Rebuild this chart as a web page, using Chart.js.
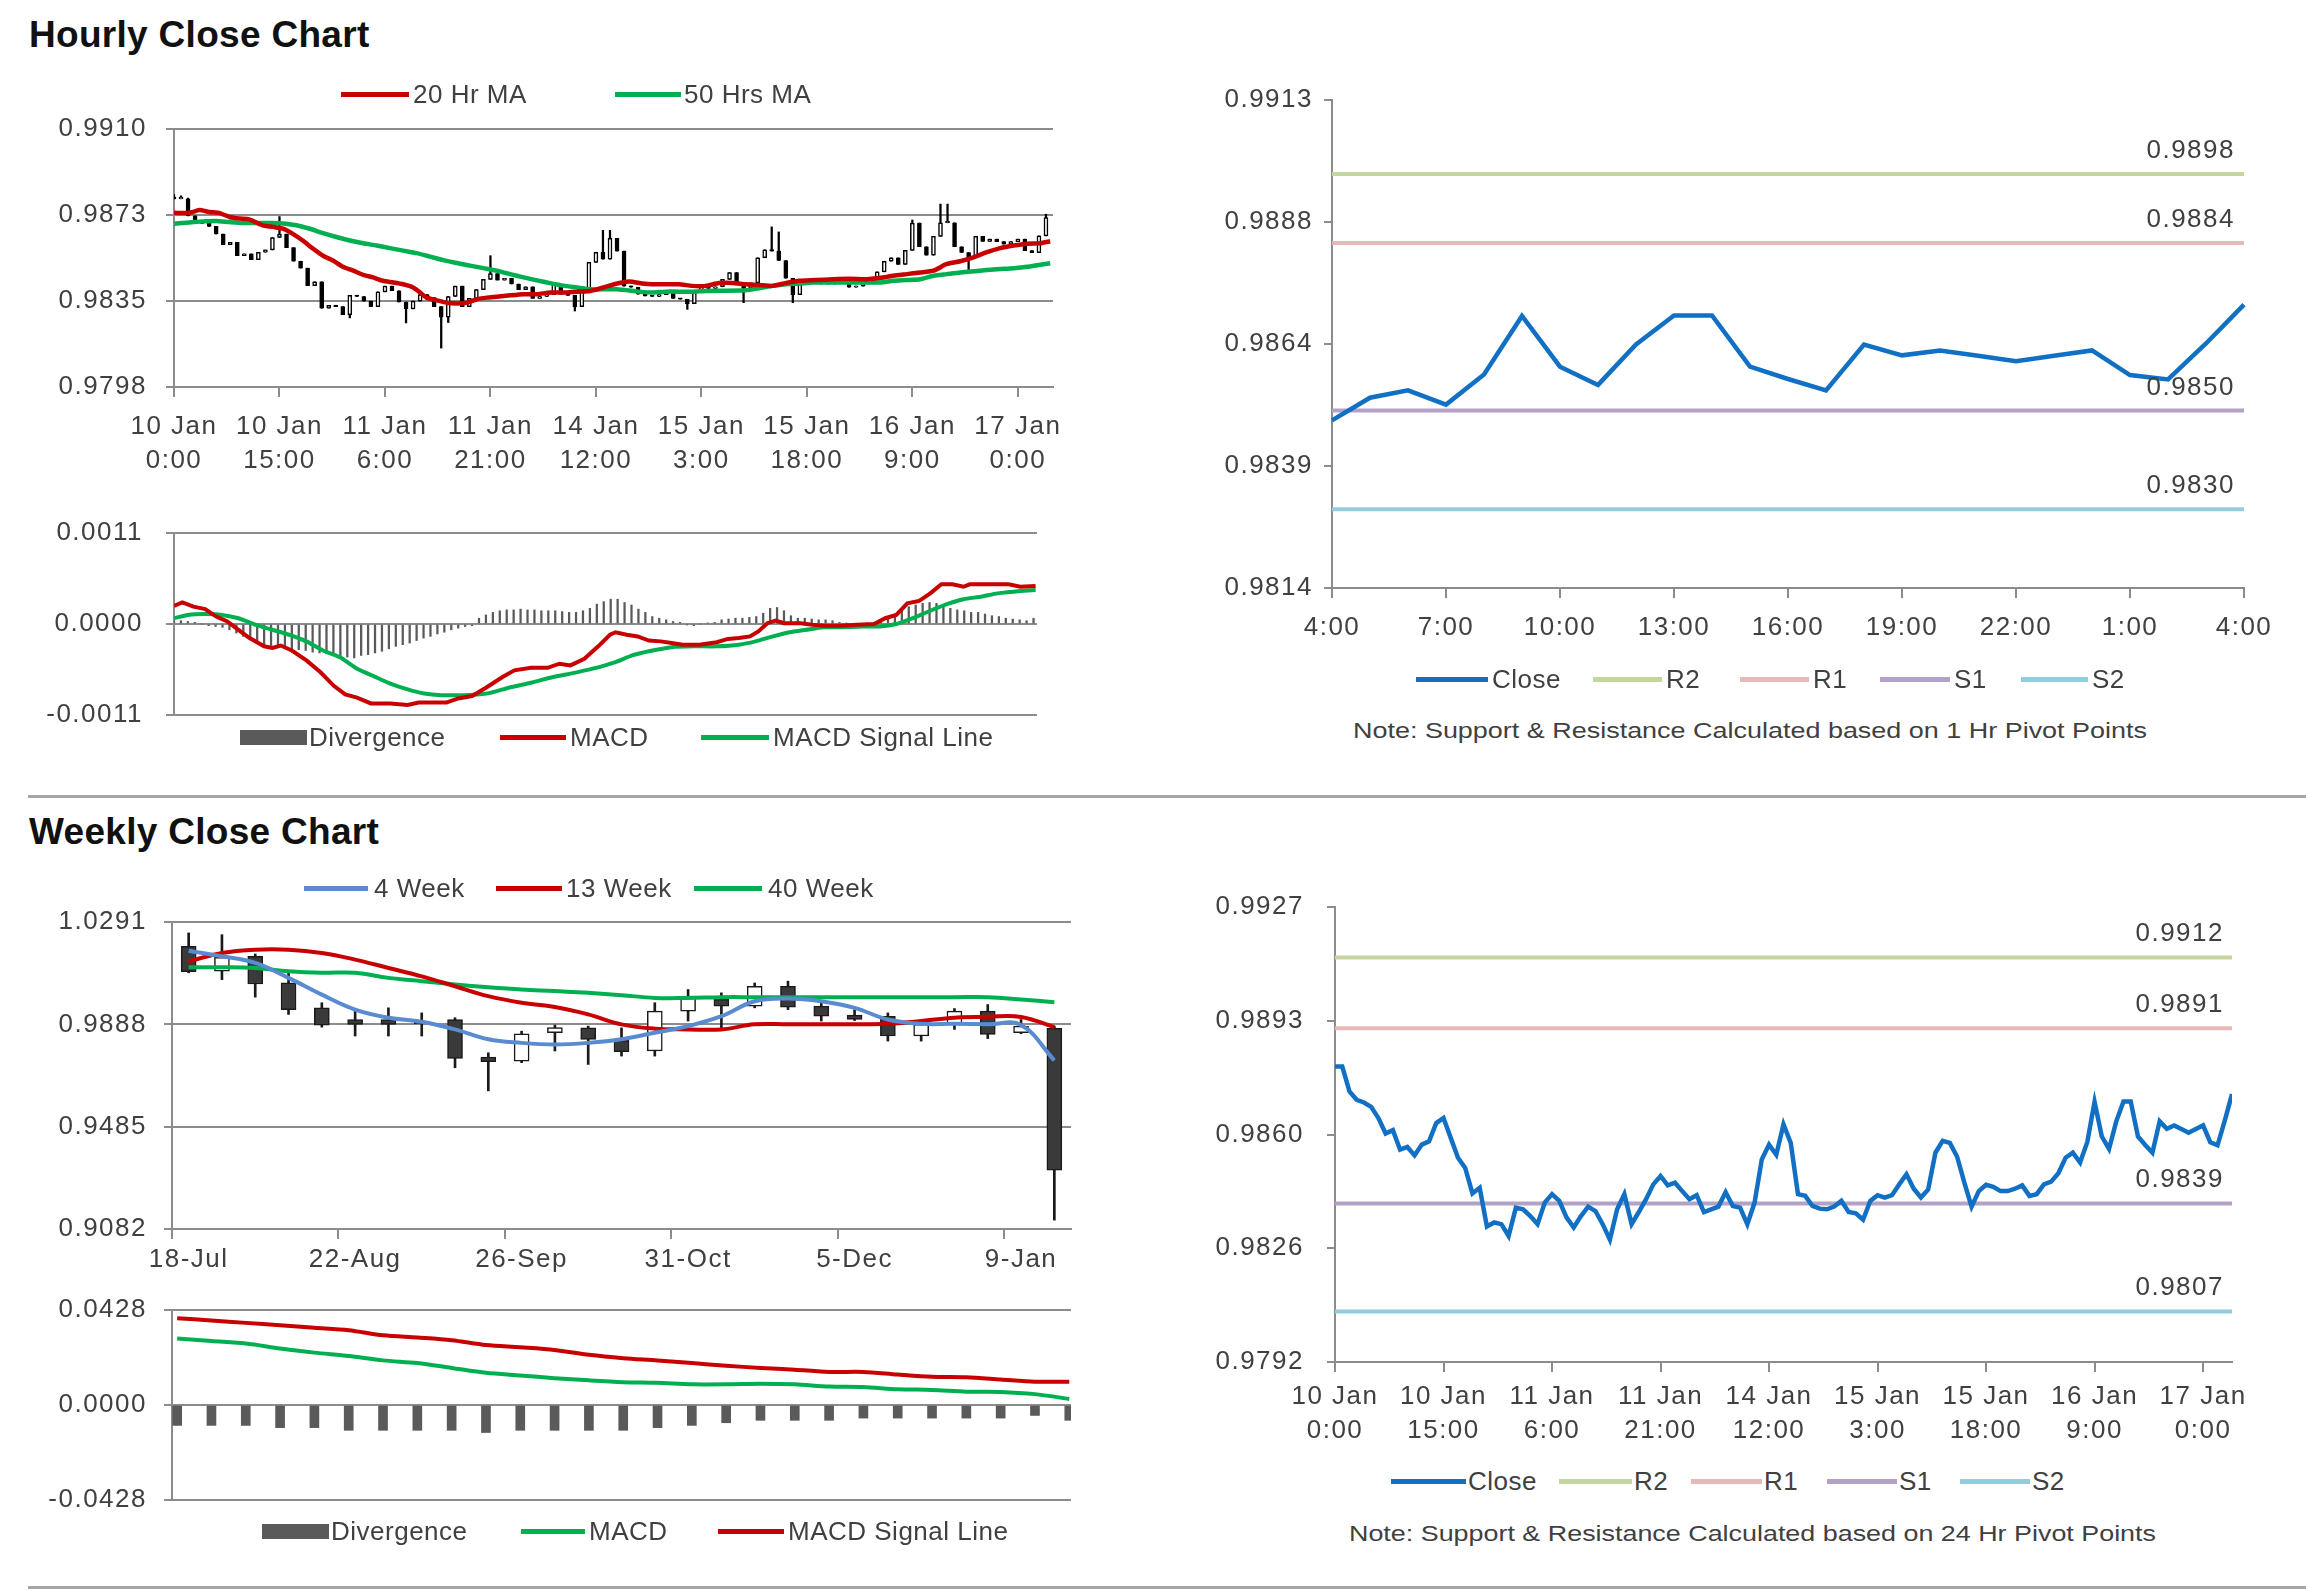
<!DOCTYPE html>
<html><head><meta charset="utf-8">
<script src="https://cdn.jsdelivr.net/npm/chart.js@4.4.1/dist/chart.umd.min.js"></script>
<style>
html,body{margin:0;padding:0;background:#fff;}
body{width:2306px;height:1591px;position:relative;overflow:hidden;font-family:"Liberation Sans",Arial,sans-serif;}
canvas{position:absolute;}
.title{position:absolute;font-weight:bold;font-size:37px;color:#111;line-height:40px;white-space:nowrap;letter-spacing:0.3px;}
.sep{position:absolute;height:3px;background:#a6a6a6;}
.lt{position:absolute;font-size:26px;color:#404040;line-height:30px;white-space:nowrap;letter-spacing:0.5px;}
.sw{position:absolute;}
.note{position:absolute;font-size:22px;color:#404040;white-space:nowrap;line-height:26px;transform-origin:0 50%;}
</style></head><body>
<script>
// ---------------- DATA ----------------
const hourTickStep = 15;
const hourTickLabels = [['10 Jan','0:00'],['10 Jan','15:00'],['11 Jan','6:00'],['11 Jan','21:00'],['14 Jan','12:00'],['15 Jan','3:00'],['15 Jan','18:00'],['16 Jan','9:00'],['17 Jan','0:00']];
const hourFirstOpen = 0.98805;
const hourClose = [
0.98797,0.98797,0.98723,0.98698,0.98690,0.98677,0.98644,0.98598,0.98608,0.98550,
0.98558,0.98533,0.98565,0.98575,0.98629,0.98644,0.98585,0.98526,0.98496,0.98420,
0.98437,0.98322,0.98334,0.98329,0.98294,0.98378,0.98373,0.98353,0.98329,0.98393,
0.98418,0.98398,0.98349,0.98319,0.98353,0.98381,0.98368,0.98329,0.98283,0.98373,
0.98418,0.98329,0.98365,0.98403,0.98447,0.98472,0.98444,0.98452,0.98427,0.98403,
0.98415,0.98365,0.98373,0.98381,0.98424,0.98383,0.98378,0.98329,0.98393,0.98521,
0.98565,0.98535,0.98625,0.98570,0.98418,0.98413,0.98383,0.98375,0.98373,0.98381,
0.98398,0.98365,0.98361,0.98342,0.98398,0.98415,0.98408,0.98415,0.98447,0.98477,
0.98434,0.98408,0.98432,0.98541,0.98576,0.98570,0.98529,0.98452,0.98381,0.98427,
0.98446,0.98440,0.98427,0.98427,0.98434,0.98444,0.98413,0.98418,0.98447,0.98455,
0.98480,0.98526,0.98541,0.98512,0.98573,0.98692,0.98589,0.98552,0.98634,0.98693,
0.98693,0.98589,0.98564,0.98541,0.98634,0.98612,0.98622,0.98611,0.98600,0.98611,
0.98622,0.98572,0.98563,0.98636,0.98715];
const hourWickHigh = {0:0.98815,1:0.98810,2:0.98800,15:0.98720,45:0.98550,61:0.98660,62:0.98660,85:0.98675,86:0.98653,105:0.98705,109:0.98774,110:0.98774,124:0.98730};
const hourWickLow = {25:0.98280,33:0.98258,38:0.98149,39:0.98260,57:0.98310,73:0.98317,81:0.98346,88:0.98346,113:0.98485};
const hourMA20 = [[0,0.98736],[2.2,0.98736],[3.6,0.98748],[5,0.98740],[6.4,0.98736],[7.9,0.98718],[9.3,0.98711],[10.7,0.98708],[12.6,0.98682],[14.1,0.98675],[15.5,0.98667],[16.9,0.98645],[18.3,0.98616],[19.8,0.98580],[21.2,0.98550],[22.6,0.98529],[24,0.98502],[25.5,0.98485],[26.9,0.98467],[28.3,0.98456],[29.7,0.98441],[31.2,0.98434],[32.6,0.98426],[34,0.98412],[35,0.98390],[35.9,0.98368],[37.4,0.98356],[38.8,0.98346],[40.2,0.98343],[41.6,0.98346],[43.1,0.98361],[44.5,0.98368],[45.9,0.98372],[47.8,0.98378],[49.7,0.98383],[51.6,0.98383],[53.5,0.98390],[55.4,0.98390],[57.3,0.98394],[59.2,0.98397],[61.1,0.98412],[62.6,0.98426],[64.7,0.98438],[66.6,0.98429],[68,0.98426],[71.8,0.98426],[73.7,0.98419],[75.6,0.98419],[77.5,0.98431],[79.4,0.98432],[81.3,0.98426],[83.2,0.98423],[85.1,0.98419],[87,0.98431],[88.9,0.98441],[91.3,0.98444],[93.7,0.98448],[96.1,0.98450],[98.5,0.98448],[100.8,0.98455],[102.3,0.98463],[104.2,0.98470],[106.1,0.98477],[108,0.98485],[109.9,0.98514],[111.8,0.98526],[113.7,0.98543],[115.6,0.98565],[117.5,0.98583],[119.4,0.98594],[121.3,0.98602],[123.2,0.98604],[124.6,0.98613]];
const hourMA50 = [[0,0.98689],[2.2,0.98694],[4.1,0.98699],[6,0.98701],[7.9,0.98696],[9.8,0.98692],[14,0.98692],[15.9,0.98689],[17.4,0.98682],[19.3,0.98667],[21.2,0.98648],[23.1,0.98631],[25,0.98616],[26.9,0.98604],[28.8,0.98594],[30.7,0.98583],[32.6,0.98572],[34.5,0.98561],[36.4,0.98546],[38.3,0.98531],[40.2,0.98518],[42.1,0.98507],[44,0.98496],[45.9,0.98485],[47.8,0.98470],[49.7,0.98456],[51.6,0.98443],[53.5,0.98431],[55.4,0.98420],[57.3,0.98412],[59.2,0.98404],[63,0.98404],[66.1,0.98394],[68,0.98390],[69.9,0.98394],[73.7,0.98394],[75.6,0.98397],[81.3,0.98400],[83.2,0.98409],[85.1,0.98419],[87,0.98426],[88.9,0.98429],[90.8,0.98434],[100.4,0.98434],[102.3,0.98441],[104.2,0.98444],[106.1,0.98448],[108,0.98463],[109.9,0.98470],[111.8,0.98477],[113.7,0.98482],[115.6,0.98488],[117.5,0.98492],[119.4,0.98496],[121.3,0.98502],[123.2,0.98511],[124.6,0.98517]];
const hourYTicks = ['0.9798','0.9835','0.9873','0.9910'];

const hourMacd = [[0,0.00022],[1.2,0.00026],[2.8,0.00021],[4.5,0.00018],[6.1,0.00009],[7.7,0.00003],[9.3,-0.00007],[10.9,-0.00017],[13,-0.00027],[14.2,-0.00029],[15.4,-0.00026],[17,-0.00032],[19.1,-0.00044],[21.1,-0.00058],[23.1,-0.00075],[24.7,-0.00085],[26.4,-0.00089],[28.4,-0.00096],[31.2,-0.00096],[33.7,-0.00098],[35.3,-0.00095],[39.3,-0.00095],[41,-0.0009],[43,-0.00087],[45,-0.00077],[47.4,-0.00064],[49.1,-0.00056],[51.5,-0.00053],[53.9,-0.00053],[55.6,-0.00048],[57.2,-0.0005],[59.2,-0.00042],[61.2,-0.00027],[62.9,-0.00013],[63.7,-0.0001],[65.3,-0.00013],[66.9,-0.00015],[68.5,-0.0002],[70.2,-0.00021],[71.8,-0.00023],[73.4,-0.00025],[75.8,-0.00025],[78.3,-0.00022],[79.9,-0.00018],[81.5,-0.00017],[83.1,-0.00015],[84.3,-0.00009],[85.6,0.00001],[86.8,0.00004],[88,0.00001],[90.4,0.00001],[92.1,-0.00001],[93.7,-0.00002],[96.1,-0.00002],[98.5,-0.00001],[101,0],[102.6,0.00007],[104.2,0.00011],[105.8,0.00025],[107.5,0.00028],[109.1,0.00037],[110.7,0.00048],[112.3,0.00048],[113.9,0.00045],[114.8,0.00048],[120.4,0.00048],[122.1,0.00045],[124.3,0.00046]];
const hourSignal = [[0,0.00007],[2,0.00011],[4.5,0.00012],[6.9,0.00011],[9.3,0.00007],[11.8,-0.00001],[14.2,-0.00007],[16.6,-0.00013],[19.1,-0.00021],[21.5,-0.00032],[23.9,-0.0004],[26.4,-0.00054],[28.8,-0.00063],[31.2,-0.00072],[33.7,-0.00079],[36.1,-0.00084],[38.5,-0.00086],[41.8,-0.00086],[44.2,-0.00085],[45.8,-0.00083],[48.3,-0.00077],[51.5,-0.00071],[54.7,-0.00064],[57.2,-0.0006],[60.4,-0.00054],[63.7,-0.00046],[66.1,-0.00038],[68.5,-0.00033],[71.8,-0.00028],[75,-0.00027],[78.3,-0.00027],[81.5,-0.00025],[83.9,-0.00021],[86.4,-0.00015],[88.8,-0.0001],[91.2,-0.00007],[93.7,-0.00004],[96.1,-0.00004],[99.4,-0.00003],[101.8,-0.00003],[104.2,0],[106.6,0.00007],[109.1,0.00016],[111.5,0.00024],[113.9,0.0003],[116.4,0.00033],[118.8,0.00037],[122.1,0.0004],[124.3,0.00041]];
const hourDiv = [
0.00004,0.00004,0.00003,0.00002,0,-0.00002,-0.00003,-0.00004,-0.00007,-0.00011,
-0.00015,-0.00019,-0.00022,-0.00025,-0.00026,-0.00027,-0.00029,-0.0003,-0.00031,-0.00032,
-0.00034,-0.00035,-0.00036,-0.00038,-0.00039,-0.0004,-0.00041,-0.00038,-0.00037,-0.00035,
-0.00033,-0.0003,-0.00027,-0.00025,-0.00023,-0.0002,-0.00017,-0.00015,-0.00012,-0.0001,
-0.00007,-0.00005,-0.00003,-0.00002,0.00007,0.00011,0.00014,0.00016,0.00017,0.00017,
0.00018,0.00017,0.00017,0.00016,0.00016,0.00016,0.00015,0.00014,0.00014,0.00016,
0.00019,0.00024,0.00027,0.0003,0.0003,0.00026,0.00023,0.00018,0.00014,0.00009,
0.00007,0.00005,0.00003,0.00002,-0.00001,-0.00002,0,0.00001,0.00002,0.00005,
0.00006,0.00007,0.00007,0.00008,0.00009,0.00013,0.00019,0.0002,0.00016,0.0001,
0.00007,0.00007,0.00006,0.00005,0.00005,0.00004,0.00002,0.00001,0,0,
0.00001,0.00002,0.00004,0.00007,0.00011,0.00016,0.00021,0.00023,0.00025,0.00026,
0.00025,0.00022,0.00019,0.00017,0.00016,0.00014,0.00014,0.00012,0.0001,0.00009,
0.00007,0.00006,0.00005,0.00004,0.00007];
const hourMacdYTicks = ['-0.0011','0.0000','0.0011'];

const pivotHourLabels = ['4:00','5:00','6:00','7:00','8:00','9:00','10:00','11:00','12:00','13:00','14:00','15:00','16:00','17:00','18:00','19:00','20:00','21:00','22:00','23:00','0:00','1:00','2:00','3:00','4:00'];
const pivotHourClose = [0.98480,0.98526,0.98541,0.98512,0.98573,0.98692,0.98589,0.98552,0.98634,0.98693,0.98693,0.98589,0.98564,0.98541,0.98634,0.98612,0.98622,0.98611,0.98600,0.98611,0.98622,0.98572,0.98563,0.98636,0.98715];
const levelNames = ['R2','R1','S1','S2'];
const pivotHourLevels = [0.9898,0.9884,0.9850,0.9830];
const pivotHourYTicks = ['0.9814','0.9839','0.9864','0.9888','0.9913'];
const pivotTickStep = 3;

const pivotDayLevels = [0.9912,0.9891,0.9839,0.9807];
const pivotDayYTicks = ['0.9792','0.9826','0.9860','0.9893','0.9927'];

const weekLabels = ['18-Jul','25-Jul','1-Aug','8-Aug','15-Aug','22-Aug','29-Aug','5-Sep','12-Sep','19-Sep','26-Sep','3-Oct','10-Oct','17-Oct','24-Oct','31-Oct','7-Nov','14-Nov','21-Nov','28-Nov','5-Dec','12-Dec','19-Dec','26-Dec','2-Jan','9-Jan','16-Jan'];
const weekTickStep = 5;
const weekOpen  = [1.0195,1.0097,1.0156,1.0051,0.9953,0.9907,0.9907,0.9894,0.9907,0.9759,0.9743,0.9855,0.9874,0.9825,0.9783,0.9940,0.9986,0.9960,1.0038,0.9960,0.9924,0.9920,0.9842,0.9888,0.9940,0.9855,0.9872];
const weekHigh  = [1.0248,1.0241,1.0165,1.0091,0.9973,0.9940,0.9953,0.9933,0.9914,0.9776,0.9861,0.9885,0.9881,0.9874,0.9973,1.0025,1.0012,1.0051,1.0058,0.9973,0.9946,0.9933,0.9894,0.9950,0.9966,0.9907,0.9881];
const weekLow   = [1.0091,1.0064,0.9995,0.9927,0.9877,0.9842,0.9842,0.9842,0.9717,0.9626,0.9737,0.9783,0.9730,0.9763,0.9763,0.9901,0.9874,0.9953,0.9946,0.9901,0.9903,0.9822,0.9822,0.9868,0.9832,0.9851,0.9117];
const weekClose = [1.0095,1.0152,1.0047,0.9946,0.9885,0.9888,0.9888,0.9890,0.9754,0.9741,0.9851,0.9875,0.9829,0.9780,0.9940,0.9999,0.9960,1.0038,0.9956,0.9920,0.9907,0.9842,0.9888,0.9940,0.9848,0.9881,0.9314];
const week4  = [1.0178,1.0156,1.0130,1.0071,1.0005,0.9946,0.9914,0.9898,0.9868,0.9829,0.9815,0.9809,0.9815,0.9829,0.9855,0.9881,0.9920,0.9979,0.9990,0.9979,0.9953,0.9907,0.9890,0.9890,0.9888,0.9885,0.9746];
const week13 = [1.0136,1.0169,1.0182,1.0182,1.0169,1.0143,1.0110,1.0077,1.0038,0.9999,0.9973,0.9956,0.9927,0.9888,0.9871,0.9868,0.9868,0.9888,0.9888,0.9888,0.9888,0.9890,0.9901,0.9914,0.9918,0.9917,0.9877];
const week40 = [1.0113,1.0113,1.0110,1.0097,1.0091,1.0091,1.0071,1.0058,1.0045,1.0034,1.0025,1.0019,1.0012,1.0003,0.9992,0.9992,0.9995,0.9995,0.9995,0.9995,0.9995,0.9995,0.9995,0.9995,0.9995,0.9986,0.9975];
const weekYTicks = ['0.9082','0.9485','0.9888','1.0291'];
const weekMacd   = [0.0300,0.0288,0.0277,0.0255,0.0236,0.0221,0.0201,0.0189,0.0167,0.0145,0.0133,0.0121,0.0111,0.0103,0.0100,0.0093,0.0093,0.0096,0.0093,0.0083,0.0081,0.0071,0.0068,0.0060,0.0059,0.0049,0.0027];
const weekSignal = [0.0391,0.0381,0.0370,0.0359,0.0348,0.0337,0.0314,0.0304,0.0292,0.0270,0.0260,0.0248,0.0226,0.0211,0.0201,0.0189,0.0177,0.0167,0.0159,0.0149,0.0149,0.0137,0.0127,0.0125,0.0115,0.0105,0.0105];
const weekDiv    = [-0.0092,-0.0092,-0.0092,-0.0102,-0.0102,-0.0114,-0.0114,-0.0114,-0.0114,-0.0124,-0.0114,-0.0114,-0.0114,-0.0114,-0.0102,-0.0092,-0.0080,-0.0069,-0.0069,-0.0069,-0.0059,-0.0059,-0.0059,-0.0059,-0.0059,-0.0047,-0.0069];
const weekMacdYTicks = ['-0.0428','0.0000','0.0428'];

// ---------------- STYLE ----------------
const C = {red:'#C80000', green:'#00B050', blue:'#1170C4', blue4:'#5A8AD0', div:'#5a5a5a',
  R2:'#C3D69B', R1:'#E6B9B8', S1:'#B3A2C7', S2:'#93CDDD', grid:'#8c8c8c', text:'#404040'};
const levelColors = [C.R2, C.R1, C.S1, C.S2];

Chart.defaults.font.family = '"Liberation Sans", Arial, sans-serif';
Chart.defaults.font.size = 26;
Chart.defaults.color = C.text;
Chart.defaults.animation = false;
Chart.defaults.plugins.legend.display = false;
Chart.defaults.plugins.tooltip.enabled = false;
Chart.register({id:'letterSpace', beforeDraw(c){ try { c.ctx.letterSpacing = '1.5px'; } catch(e){} }});

const levelLabelPlugin = {
  id:'levelLabels',
  afterDatasetsDraw(chart, args, opts){
    if (!opts || !opts.values) return;
    const {ctx, chartArea, scales} = chart;
    ctx.save();
    ctx.font = '26px "Liberation Sans", Arial, sans-serif';
    ctx.fillStyle = C.text; ctx.textAlign = 'right'; ctx.textBaseline = 'middle';
    opts.values.forEach(v => ctx.fillText(v.toFixed(4), chartArea.right - opts.dx, scales.y.getPixelForValue(v) - opts.dy));
    ctx.restore();
  }
};

function mk(left, top, w, h){
  const c = document.createElement('canvas');
  c.width = w; c.height = h;
  c.style.left = left + 'px'; c.style.top = top + 'px';
  c.style.width = w + 'px'; c.style.height = h + 'px';
  document.body.appendChild(c);
  return c;
}
function yAxis(labels, width, pad, drawGrid){
  const min = parseFloat(labels[0]), max = parseFloat(labels[labels.length-1]);
  return {
    type:'linear', min, max,
    afterBuildTicks: s => { s.ticks = labels.map((_, i) => ({value: min + (max - min) * i / (labels.length - 1)})); },
    afterFit: s => { s.width = width; },
    ticks: {callback: (v, i) => labels[i], padding: pad, color: C.text},
    grid: {color: C.grid, lineWidth: 2, tickLength: 8, drawOnChartArea: drawGrid},
    border: {display: true, color: C.grid, width: 2}
  };
}
function lineDS(data, color, extra){
  return Object.assign({type:'line', data, borderColor: color, backgroundColor: color, borderWidth: 4,
    pointRadius: 0, fill: false, tension: 0.2, order: 0}, extra || {});
}
const pairs = a => a.map(p => ({x: p[0], y: p[1]}));
const hourTickValues = hourTickLabels.map((_, i) => i * hourTickStep);
function hourXAxis(max, height, pad){
  return {
    type:'linear', min: 0, max, offset: false,
    afterBuildTicks: s => { s.ticks = hourTickValues.map(v => ({value: v})); },
    afterFit: s => { s.height = height; },
    ticks: {callback: (v, i) => hourTickLabels[i], padding: pad, maxRotation: 0, autoSkip: false, font: {lineHeight: 1.3}},
    grid: {offset: false, drawOnChartArea: false, color: C.grid, lineWidth: 2, tickLength: 10},
    border: {display: true, color: C.grid, width: 2}
  };
}

// ---------------- CHART A: hourly candles ----------------
const hourOpen = hourClose.map((c, i) => i ? hourClose[i-1] : hourFirstOpen);
new Chart(mk(0, 79, 1080, 404), {
  type: 'bar',
  data: { datasets: [
    lineDS(pairs(hourMA20), C.red, {borderWidth: 4.5}),
    lineDS(pairs(hourMA50), C.green, {borderWidth: 4.5}),
    {type:'bar', order: 1, grouped: false, barThickness: 4, minBarLength: 1.5, borderWidth: 1.5, borderColor: '#000', borderSkipped: false,
     backgroundColor: ctx => (ctx.raw && ctx.raw.y[1] >= ctx.raw.y[0]) ? '#ffffff' : '#000000',
     data: hourClose.map((c, i) => ({x: i, y: [hourOpen[i], c]}))},
    {type:'bar', order: 2, grouped: false, barThickness: 1.6, backgroundColor: '#000', borderWidth: 0,
     data: hourClose.map((c, i) => ({x: i, y: [hourWickLow[i] ?? Math.min(hourOpen[i], c), hourWickHigh[i] ?? Math.max(hourOpen[i], c)]}))}
  ]},
  options: { responsive: false, devicePixelRatio: 1,
    layout: {padding: {top: 50, right: 27, bottom: 0, left: 0}},
    scales: { x: hourXAxis(125, 96, 13), y: yAxis(hourYTicks, 174, 19, true) } }
});

// ---------------- CHART B: hourly MACD ----------------
new Chart(mk(0, 483, 1080, 280), {
  type: 'bar',
  data: { datasets: [
    lineDS(pairs(hourMacd), C.red, {tension: 0}),
    lineDS(pairs(hourSignal), C.green, {tension: 0.2}),
    {type:'bar', order: 1, barThickness: 1.6, backgroundColor: C.div, data: hourDiv.map((v, i) => ({x: i, y: v}))}
  ]},
  options: { responsive: false, devicePixelRatio: 1,
    layout: {padding: {top: 50, right: 43, bottom: 48, left: 0}},
    scales: { x: {type: 'linear', display: false, min: 0, max: 124.5, offset: false},
              y: yAxis(hourMacdYTicks, 174, 23, true) } }
});

// ---------------- CHART C: 1-hr pivot ----------------
new Chart(mk(1160, 60, 1146, 610), {
  type: 'line',
  data: { labels: pivotHourLabels, datasets: [
    lineDS(pivotHourClose, C.blue, {tension: 0, borderWidth: 4.5})
  ].concat(pivotHourLevels.map((L, k) => lineDS(pivotHourLabels.map(() => L), levelColors[k], {tension: 0, label: levelNames[k]}))) },
  plugins: [levelLabelPlugin],
  options: { responsive: false, devicePixelRatio: 1,
    layout: {padding: {top: 40, right: 62, bottom: 0, left: 0}},
    plugins: {levelLabels: {values: pivotHourLevels, dx: 9, dy: 23}},
    scales: {
      x: {type: 'category', offset: false, afterFit: s => { s.height = 82; },
          ticks: {autoSkip: false, maxRotation: 0, padding: 14, callback: (v, i) => i % pivotTickStep === 0 ? pivotHourLabels[i] : ''},
          grid: {drawOnChartArea: false, lineWidth: 2, tickLength: 10, color: C.grid,
                 tickColor: ctx => (ctx.index % pivotTickStep === 0) ? C.grid : 'rgba(0,0,0,0)'},
          border: {display: true, color: C.grid, width: 2}},
      y: yAxis(pivotHourYTicks, 172, 11, false)
    } }
});

// ---------------- CHART D: weekly candles ----------------
new Chart(mk(0, 880, 1100, 420), {
  type: 'bar',
  data: { labels: weekLabels, datasets: [
    lineDS(week4, C.blue4, {tension: 0.4}),
    lineDS(week13, C.red, {tension: 0.4}),
    lineDS(week40, C.green, {tension: 0.4}),
    {type:'bar', order: 1, grouped: false, barThickness: 15, minBarLength: 2, borderWidth: 1.5, borderColor: '#1a1a1a', borderSkipped: false,
     backgroundColor: weekClose.map((c, i) => c >= weekOpen[i] ? '#ffffff' : '#3a3a3a'),
     data: weekClose.map((c, i) => [weekOpen[i], c])},
    {type:'bar', order: 2, grouped: false, barThickness: 2, backgroundColor: '#1a1a1a', borderWidth: 0,
     data: weekLow.map((l, i) => [l, weekHigh[i]])}
  ]},
  options: { responsive: false, devicePixelRatio: 1,
    layout: {padding: {top: 42, right: 29, bottom: 0, left: 0}},
    scales: {
      x: {type: 'category', offset: true, afterFit: s => { s.height = 71; },
          ticks: {autoSkip: false, maxRotation: 0, padding: 5, callback: (v, i) => i % weekTickStep === 0 ? weekLabels[i] : ''},
          grid: {offset: true, drawOnChartArea: false, lineWidth: 2, tickLength: 10, color: C.grid,
                 tickColor: ctx => (ctx.index % weekTickStep === 0) ? C.grid : 'rgba(0,0,0,0)'},
          border: {display: true, color: C.grid, width: 2}},
      y: yAxis(weekYTicks, 172, 17, true)
    } }
});

// ---------------- CHART E: weekly MACD ----------------
new Chart(mk(0, 1262, 1100, 285), {
  type: 'bar',
  data: { datasets: [
    lineDS(weekMacd.map((v, i) => ({x: i, y: v})), C.green, {tension: 0.3}),
    lineDS(weekSignal.map((v, i) => ({x: i, y: v})), C.red, {tension: 0.3}),
    {type:'bar', order: 1, barThickness: 9, backgroundColor: C.div, data: weekDiv.map((v, i) => ({x: i, y: v}))}
  ]},
  options: { responsive: false, devicePixelRatio: 1,
    layout: {padding: {top: 48, right: 29, bottom: 47, left: 0}},
    scales: { x: {type: 'linear', display: false, min: -0.15, max: weekLabels.length - 0.95, offset: false},
              y: yAxis(weekMacdYTicks, 172, 17, true) } }
});

// ---------------- CHART F: 24-hr pivot ----------------
const lastIdx = hourClose.length - 1;
new Chart(mk(1160, 863, 1146, 600), {
  type: 'line',
  data: { datasets: [
    lineDS(hourClose.map((v, i) => ({x: i, y: v})), C.blue, {tension: 0, borderWidth: 4.5})
  ].concat(pivotDayLevels.map((L, k) => lineDS([{x: 0, y: L}, {x: lastIdx, y: L}], levelColors[k], {tension: 0, label: levelNames[k]}))) },
  plugins: [levelLabelPlugin],
  options: { responsive: false, devicePixelRatio: 1,
    layout: {padding: {top: 44, right: 74, bottom: 0, left: 0}},
    plugins: {levelLabels: {values: pivotDayLevels, dx: 8, dy: 24}},
    scales: { x: hourXAxis(lastIdx, 101, 8), y: yAxis(pivotDayYTicks, 175, 23, false) } }
});

// ---------------- HTML text: titles, legends, notes ----------------
function el(cls, text, css){
  const d = document.createElement('div'); d.className = cls; if (text) d.textContent = text;
  Object.assign(d.style, css); document.body.appendChild(d); return d;
}
el('title', 'Hourly Close Chart', {left: '29px', top: '15px'});
el('title', 'Weekly Close Chart', {left: '29px', top: '812px'});
el('sep', '', {left: '28px', top: '795px', width: '2278px'});
el('sep', '', {left: '28px', top: '1586px', width: '2278px'});

function legend(cy, items){
  items.forEach(([sx, sw, kind, color, tx, text]) => {
    const h = kind === 'box' ? 15 : 5;
    el('sw', '', {left: sx + 'px', top: (cy - h / 2) + 'px', width: sw + 'px', height: h + 'px', background: color});
    el('lt', text, {left: tx + 'px', top: (cy - 15) + 'px'});
  });
}
legend(94, [[341, 68, 'line', C.red, 413, '20 Hr MA'], [615, 66, 'line', C.green, 684, '50 Hrs MA']]);
legend(737, [[240, 67, 'box', C.div, 309, 'Divergence'], [500, 66, 'line', C.red, 570, 'MACD'], [701, 68, 'line', C.green, 773, 'MACD Signal Line']]);
legend(679, [[1416, 72, 'line', C.blue, 1492, 'Close'], [1593, 69, 'line', C.R2, 1666, 'R2'], [1740, 69, 'line', C.R1, 1813, 'R1'], [1880, 70, 'line', C.S1, 1954, 'S1'], [2021, 67, 'line', C.S2, 2092, 'S2']]);
legend(888, [[304, 64, 'line', C.blue4, 374, '4 Week'], [496, 66, 'line', C.red, 566, '13 Week'], [694, 68, 'line', C.green, 768, '40 Week']]);
legend(1531, [[262, 67, 'box', C.div, 331, 'Divergence'], [521, 64, 'line', C.green, 589, 'MACD'], [718, 66, 'line', C.red, 788, 'MACD Signal Line']]);
legend(1481, [[1391, 75, 'line', C.blue, 1468, 'Close'], [1559, 73, 'line', C.R2, 1634, 'R2'], [1691, 71, 'line', C.R1, 1764, 'R1'], [1827, 70, 'line', C.S1, 1899, 'S1'], [1960, 70, 'line', C.S2, 2032, 'S2']]);

function note(text, left, cy, w){
  const d = el('note', text, {left: left + 'px', top: (cy - 13) + 'px'});
  const actual = d.getBoundingClientRect().width;
  d.style.transform = 'scaleX(' + (w / actual) + ')';
}
note('Note: Support & Resistance Calculated based on 1 Hr Pivot Points', 1353, 731, 794);
note('Note: Support & Resistance Calculated based on 24 Hr Pivot Points', 1349, 1534, 807);
</script>
</body></html>
